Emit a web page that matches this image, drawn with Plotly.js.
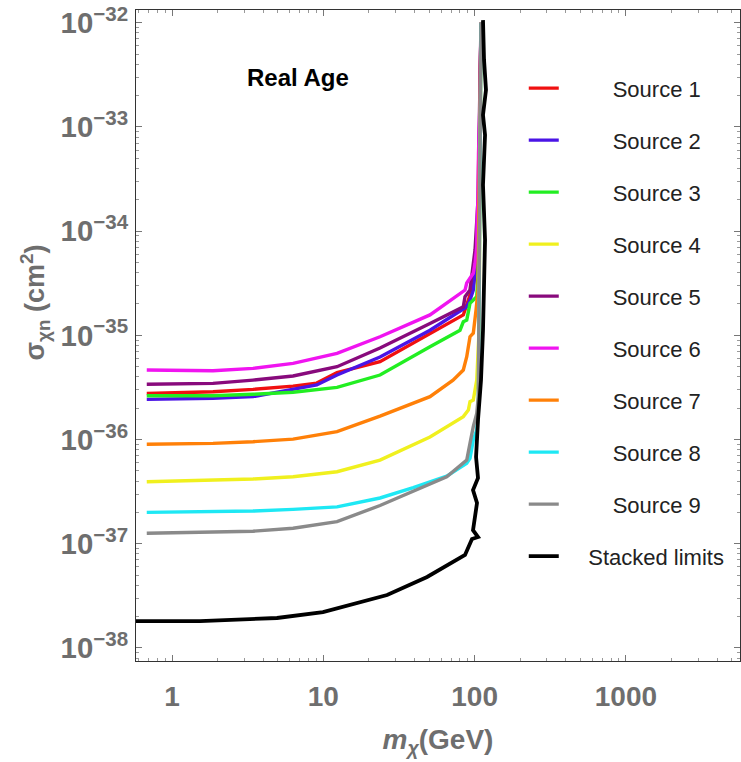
<!DOCTYPE html>
<html>
<head>
<meta charset="utf-8">
<script src="https://cdn.plot.ly/plotly-3.0.1.min.js"></script>
<style>html,body{margin:0;padding:0;background:#fff;}#chart{width:741px;height:762px;}</style>
</head>
<body>
<div id="chart"></div>
<script>
// ---- data ----
const seriesNames = ['Source 1','Source 2','Source 3','Source 4','Source 5','Source 6','Source 7','Source 8','Source 9','Stacked limits'];
const seriesColors = ['#f01010','#4a14e6','#22ee22','#f0f01e','#880a7c','#f014f0','#ff8008','#1ee8f4','#8a8a8a','#000000'];

const src1_x = [0.681,1.866,3.43,6.31,9.05,12.32,23.7,50.7,84.2,90.9,98.0,105.3,110.2];
const src1_y = [2.77e-36,2.88e-36,3.03e-36,3.26e-36,3.48e-36,4.38e-36,5.58e-36,1.05e-35,1.57e-35,2.18e-35,3.04e-35,6.59e-35,1.0e-32];

const src2_x = [0.681,1.866,3.43,6.31,9.05,12.32,23.7,50.7,88.7,93.2,98.0,102.2,106.1,110.2];
const src2_y = [2.43e-36,2.49e-36,2.58e-36,3.03e-36,3.34e-36,4.16e-36,6.19e-36,1.12e-35,1.88e-35,2.18e-35,2.72e-35,5.28e-35,1.28e-34,1.0e-32];

const src3_x = [0.681,1.866,3.43,6.31,12.32,23.7,50.7,80.1,84.2,88.7,90.9,93.2,98.0,103.3,105.3,110.2];
const src3_y = [2.63e-36,2.63e-36,2.72e-36,2.84e-36,3.17e-36,4.16e-36,7.78e-36,1.12e-35,1.35e-35,1.40e-35,1.68e-35,2.03e-35,2.18e-35,2.35e-35,3.79e-35,1.0e-32];

const src4_x = [0.681,1.866,3.43,6.31,12.32,23.7,50.7,84.2,90.9,93.2,98.0,100.6,103.3,107.0,110.2];
const src4_y = [3.94e-37,4.09e-37,4.18e-37,4.40e-37,4.91e-37,6.36e-37,1.06e-36,1.66e-36,1.92e-36,2.31e-36,2.39e-36,2.99e-36,3.72e-36,1.12e-35,1.0e-32];

const src5_x = [0.681,1.866,3.43,6.31,12.32,23.7,50.7,84.2,86.4,93.2,100.6,105.3,110.2];
const src5_y = [3.39e-36,3.46e-36,3.72e-36,4.07e-36,5.00e-36,7.55e-36,1.30e-35,1.88e-35,2.35e-35,2.72e-35,6.59e-35,1.99e-34,1.0e-32];

const src6_x = [0.681,1.866,3.43,6.31,12.32,23.7,50.7,74.2,86.4,88.7,98.0,100.6,103.3,103.7,105.3,106.1,108.6,110.2];
const src6_y = [4.65e-36,4.57e-36,4.82e-36,5.38e-36,6.71e-36,9.70e-36,1.57e-35,2.35e-35,2.72e-35,3.18e-35,3.94e-35,4.91e-35,7.08e-35,1.20e-34,2.12e-34,5.62e-34,1.81e-33,1.0e-32];

const src7_x = [0.681,1.866,3.43,6.31,12.32,23.7,50.7,72.0,84.2,88.7,93.2,98.0,102.2,105.3,110.2];
const src7_y = [9.00e-37,9.20e-37,9.53e-37,1.01e-36,1.19e-36,1.68e-36,2.58e-36,3.72e-36,4.65e-36,6.23e-36,9.70e-36,1.05e-35,1.75e-35,2.72e-35,1.0e-32];

const src8_x = [0.681,1.866,3.43,6.31,12.32,23.7,39.3,65.4,88.7,93.2,95.7,98.0,103.3,105.8,110.2];
const src8_y = [2.00e-37,2.03e-37,2.06e-37,2.14e-37,2.26e-37,2.75e-37,3.46e-37,4.46e-37,5.91e-37,6.61e-37,7.93e-37,9.89e-37,1.23e-36,1.78e-36,1.0e-32];

const src9_x = [0.681,1.866,3.43,6.31,12.32,23.7,39.3,65.4,88.7,90.9,93.2,98.0,103.3,105.8,110.2];
const src9_y = [1.26e-37,1.29e-37,1.32e-37,1.41e-37,1.63e-37,2.33e-37,3.21e-37,4.40e-37,6.36e-37,7.93e-37,9.20e-37,1.33e-36,1.78e-36,2.58e-36,1.0e-32];

const stacked_x = [0.57,1.53,4.94,9.95,26.4,48.5,86.4,96.1,105.3,97.6,103.7,97.6,105.3,102.2,105.3,110.2,113.6,117.2,113.6,117.2,113.6,118.9,115.4,113.6];
const stacked_y = [1.81e-38,1.81e-38,1.94e-38,2.21e-38,3.22e-38,4.80e-38,7.80e-38,1.11e-37,1.16e-37,1.35e-37,2.46e-37,3.28e-37,4.28e-37,6.79e-37,1.54e-36,3.72e-36,1.12e-35,8.22e-35,2.77e-34,8.36e-34,1.30e-33,2.26e-33,4.39e-33,1.06e-32];

const xTickVals = [1, 10, 100, 1000];
const xTickText = ['1', '10', '100', '1000'];

// ---- build traces ----
const xs = [src1_x,src2_x,src3_x,src4_x,src5_x,src6_x,src7_x,src8_x,src9_x,stacked_x];
const ys = [src1_y,src2_y,src3_y,src4_y,src5_y,src6_y,src7_y,src8_y,src9_y,stacked_y];
const nb = n => '\u00a0'.repeat(n);
const traces = seriesNames.map((nm, i) => ({
  type: 'scatter', mode: 'lines',
  x: xs[i], y: ys[i],
  name: (i < 9 ? nb(8) : nb(4)) + nm,
  legendgroup: 'g' + i,
  line: {color: seriesColors[i], width: i === 9 ? 3.8 : 3.4},
  hoverinfo: 'skip'
}));

const gray = '#6e6e6e';
const fontFam = 'Liberation Sans, Arial, Helvetica, sans-serif';

const layout = {
  width: 741, height: 762,
  margin: {l: 136, r: 1, t: 10, b: 101},
  paper_bgcolor: '#ffffff', plot_bgcolor: '#ffffff',
  showlegend: true,
  legend: {
    x: 0.642, y: 0.912, xanchor: 'left', yanchor: 'top',
    traceorder: 'grouped', tracegroupgap: 20.4,
    bgcolor: 'rgba(0,0,0,0)', borderwidth: 0,
    font: {family: fontFam, size: 22, color: '#222222'}
  },
  xaxis: {
    type: 'log', range: [-0.238, 3.754],
    tickvals: xTickVals, ticktext: xTickText,
    ticks: 'inside', ticklen: 6, tickwidth: 1, tickcolor: '#777',
    minor: {ticks: 'inside', ticklen: 3, tickcolor: '#999', dtick: 'D1'},
    showline: true, linecolor: '#333', linewidth: 1.2, mirror: 'allticks',
    showgrid: false, zeroline: false,
    tickfont: {family: fontFam, size: 28, color: gray, weight: 'bold'},
    ticklabelstandoff: 10,
    title: {text: '<i>m</i><sub><i>χ</i></sub>(GeV)', standoff: 18,
            font: {family: fontFam, size: 28, color: gray, weight: 'bold'}}
  },
  yaxis: {
    type: 'log', range: [-38.125, -31.878],
    dtick: 1,
    exponentformat: 'power',
    ticks: 'inside', ticklen: 6, tickwidth: 1, tickcolor: '#777',
    minor: {ticks: 'inside', ticklen: 3, tickcolor: '#999', dtick: 'D1'},
    showline: true, linecolor: '#333', linewidth: 1.2, mirror: 'allticks',
    showgrid: false, zeroline: false,
    tickfont: {family: fontFam, size: 23.5, color: gray, weight: 'bold'},
    ticklabelstandoff: 2
  },
  annotations: [
    {xref: 'paper', yref: 'paper', x: 0.268, y: 0.897, xanchor: 'center', yanchor: 'middle',
     text: 'Real Age', showarrow: false,
     font: {family: fontFam, size: 24, color: '#000', weight: 'bold'}},
    {xref: 'paper', yref: 'paper', x: -0.167, y: 0.551, xanchor: 'center', yanchor: 'middle',
     text: 'σ<sub>χn</sub> (cm<sup>2</sup>)', textangle: -90, showarrow: false,
     font: {family: fontFam, size: 27, color: gray, weight: 'bold'}}
  ]
};

Plotly.newPlot('chart', traces, layout, {displayModeBar: false, staticPlot: true});
</script>
</body>
</html>
